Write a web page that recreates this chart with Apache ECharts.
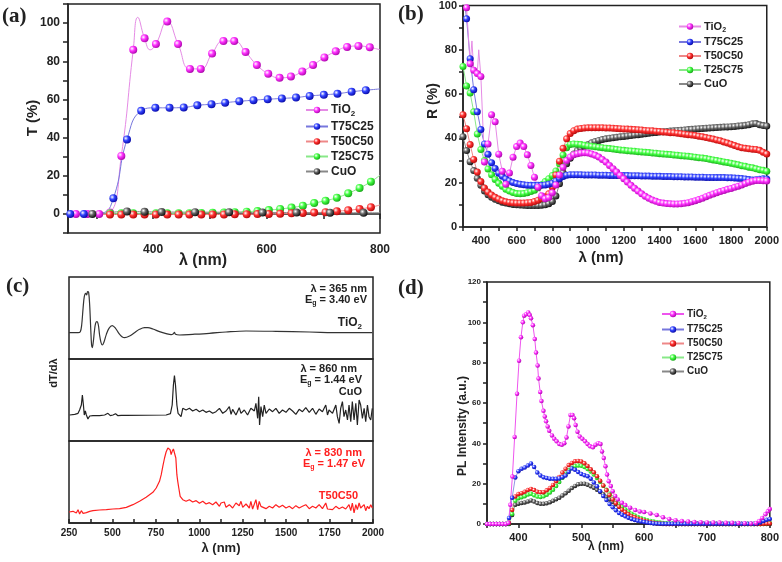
<!DOCTYPE html>
<html>
<head>
<meta charset="utf-8">
<script src="https://cdn.jsdelivr.net/npm/echarts@6/dist/echarts.min.js"></script>
<style>
  html, body { margin: 0; padding: 0; background: #fff; }
  #main { width: 782px; height: 562px; }
</style>
</head>
<body>
<div id="main"></div>
<script>
// ---------- (a) transmittance: dots + extra curve-only points ----------
const aTiO2Dots = [[264,0],[284,0],[305,0],[324,0.8],[344,30.4],[365,86],[385,92],[405,89],[425,100.8],[444,89],[465,76],[484,76],[504,84],[524,90.6],[543,90.6],[563,84.8],[583,78],[603,73.5],[623,71.3],[643,72],[663,74.6],[682,78],[702,82],[722,85.2],[742,87.5],[762,88],[782,87.3]]
const aTiO2Curve = [[250,0],[373,103],[395,86],[800,86]]
const aT75Dots = [[254,0],[278,0],[330,8.2],[354,39],[379,54],[404,55.6],[429,55.6],[454,55.8],[478,56.9],[503,57.5],[527,58.3],[552,59],[577,59.6],[602,60.1],[627,60.5],[652,61],[676,61.8],[701,62.4],[725,63],[750,64],[775,64.8]]
const aT75Curve = [[250,0],[310,0.5],[800,65.5]]
const aT50Dots = [[324,-0.3],[344,-0.3],[365,-0.3],[385,-0.3],[405,-0.3],[425,-0.3],[445,-0.3],[464,-0.3],[485,-0.3],[505,-0.3],[525,-0.3],[544,-0.2],[565,-0.2],[584,-0.1],[604,0],[624,0.1],[644,0.35],[664,0.5],[684,0.7],[704,0.9],[724,1.4],[744,1.9],[764,2.6],[784,3.5]]
const aT50Curve = [[250,-0.2],[800,4.7]]
const aT25Dots = [[324,0.3],[344,0.3],[365,0.3],[385,0.3],[405,0.3],[425,0.3],[445,0.3],[464,0.4],[485,0.5],[505,0.6],[525,0.7],[544,0.9],[565,1.2],[584,1.5],[604,2],[624,2.6],[644,3.3],[664,4.3],[684,5.7],[704,6.9],[724,8.5],[744,10.8],[764,13.6],[784,16.9]]
const aT25Curve = [[250,0.2],[800,20.3]]
const aCuODots = [[293,0],[354,1.3],[385,1.1],[415,1],[474,0.9],[534,0.9],[593,0.7],[653,0.7],[712,0.6],[771,0.6]]
const aCuOCurve = [[252,0],[800,0.6]]

// ---------- (b) reflectance, sampled every 20 nm ----------
const bWl = [300,320,340,360,380,400,420,440,460,480,
  500,520,540,560,580,600,620,640,660,680,
  700,720,740,760,780,800,820,840,860,880,
  900,920,940,960,980,1000,
  1020,1040,1060,1080,1100,1120,1140,1160,1180,1200,
  1220,1240,1260,1280,1300,1320,1340,1360,1380,1400,
  1420,1440,1460,1480,1500,1520,1540,1560,1580,1600,
  1620,1640,1660,1680,1700,1720,1740,1760,1780,1800,
  1820,1840,1860,1880,1900,1920,1940,1960,1980,2000]
const bTiO2 = [112,99,73.7,70.8,69.3,68,29.4,37.5,50.7,47.5,
  32.9,25.2,19.3,24.4,31.5,36.3,37.9,36.3,32.6,27.8,
  22.5,18,14.1,12.8,13.3,15.5,19,23.5,27,30,
  31.6,32.6,33.1,33.4,33.5,33.4,
  33,32.4,31.6,30.5,29.3,27.8,26.3,24.8,23.3,21.8,
  20.3,18.8,17.5,16.2,15,13.9,13,12.2,11.6,11.1,
  10.8,10.6,10.5,10.4,10.4,10.5,10.7,11,11.4,11.9,
  12.4,13,13.7,14.3,14.9,15.5,16,16.5,17,17.4,
  17.9,18.4,19,19.6,20.2,20.7,21,21,20.9,20.8]
const bTiO2Spikes = [[350,84],[388,80]]
const bT75 = [108,94,76,62,52,44,37.5,32.8,29,26.4,
  24.3,22.9,21.7,20.8,20.1,19.6,19.3,19.1,18.9,18.8,
  18.8,18.8,18.8,19,19.3,19.8,20.7,21.8,22.8,23.4,
  23.6,23.6,23.6,23.6,23.5,23.5,
  23.5,23.5,23.4,23.4,23.4,23.3,23.3,23.3,23.2,23.2,
  23.2,23.1,23.1,23.1,23,23,23,22.9,22.9,22.9,
  22.8,22.8,22.8,22.7,22.7,22.7,22.6,22.6,22.6,22.5,
  22.5,22.5,22.4,22.4,22.4,22.3,22.3,22.3,22.2,22.2,
  22.1,22,21.9,21.7,21.4,21.2,21.3,21.6,21.8,21.7]
const bT50 = [50.7,44.4,37.2,30.5,24.8,20.5,17.6,15.8,14.5,13.4,
  12.6,11.9,11.4,11.1,10.9,10.8,10.8,10.8,10.9,11.1,
  11.5,12.1,12.9,13.7,15,18,23.5,29.7,35.5,39.8,
  42.2,43.5,44.2,44.5,44.7,44.8,
  44.8,44.8,44.8,44.8,44.7,44.7,44.6,44.5,44.4,44.3,
  44.2,44.1,44,43.9,43.8,43.6,43.5,43.4,43.2,43.1,
  42.9,42.8,42.6,42.5,42.3,42.1,41.9,41.7,41.5,41.3,
  41,40.7,40.4,40.1,39.7,39.3,38.9,38.4,37.9,37.4,
  36.8,36.2,35.8,35.5,35.3,35.1,35,34.6,33.8,33]
const bT25 = [72.5,63.7,60.5,52,42,35,30,26.2,23.6,21.5,
  19.7,18.4,17,16.2,15.6,15.1,15,15.1,15.5,16,
  16.6,17.7,19.1,20.5,21.8,23.3,25.3,28.5,32.5,35.8,
  37.3,37.5,37.4,37.2,36.9,36.6,
  36.4,36.2,36,35.8,35.6,35.4,35.2,35,34.8,34.6,
  34.4,34.3,34.2,34,33.9,33.7,33.6,33.4,33.3,33.1,
  33,32.8,32.7,32.5,32.4,32.2,32.1,31.9,31.7,31.5,
  31.3,31.1,30.9,30.6,30.3,30,29.7,29.4,29.1,28.8,
  28.4,28.1,27.7,27.4,27,26.7,26.3,25.9,25.6,25.2]
const bCuO = [40.8,34.5,29.5,25.5,22,18.8,16.3,14.6,13.4,12.5,
  11.8,11.2,10.8,10.5,10.2,10,9.9,9.8,9.7,9.7,
  9.7,9.7,9.8,10,10.5,11.5,14,19.5,24.5,28.5,
  31,33,34.5,35.5,36.5,37.3,
  38,38.6,39.1,39.5,39.8,40.1,40.3,40.5,40.7,40.9,
  41.1,41.3,41.5,41.7,41.9,42.1,42.3,42.5,42.7,42.9,
  43,43.1,43.3,43.4,43.6,43.7,43.8,44,44.1,44.2,
  44.4,44.5,44.6,44.7,44.8,44.9,45,45.1,45.2,45.3,
  45.4,45.6,45.7,45.9,46.2,46.6,46.7,46.2,45.8,45.6]

// ---------- (c) dT/dλ traces (arbitrary units) ----------
const cTiO2 = [[250,0],[302,0],[315,3],[323,23],[331,73],[338,108],[346,118],[352,113],[357,123],[363,121],[369,83],[375,13],[380,-37],[384,-45],[390,-27],[396,3],[403,28],[411,33],[419,23],[426,-7],[434,-29],[442,-37],[451,-29],[465,-5],[480,13],[499,21],[518,13],[537,-2],[555,-12],[570,-15],[599,-10],[627,0],[656,10],[685,15],[704,15],[733,11],[771,3],[809,-3],[838,-6],[851,-3],[857,1],[863,-5],[886,-7],[962,-5],[1058,-2],[1154,2],[1269,5],[1441,4],[1633,2],[1824,0],[1996,0]]
const cCuO = [[254,0],[283,2],[302,5],[311,15],[321,30],[327,60],[333,30],[338,0],[344,12],[350,0],[359,-12],[369,-3],[379,-5],[388,-2],[426,-2],[455,0],[474,5],[488,-2],[503,0],[518,4],[532,-2],[551,-1],[580,-1],[809,0],[834,4],[844,30],[851,90],[857,118],[863,90],[871,30],[878,5],[886,10],[895,-5],[905,20],[915,22],[924,15],[943,20],[962,12],[982,17],[1001,10],[1020,15],[1039,8],[1058,12],[1077,5],[1096,10],[1116,20],[1135,5],[1154,12],[1173,25],[1183,2],[1192,17],[1211,0],[1230,22],[1240,5],[1259,15],[1278,0],[1297,20],[1317,12],[1326,35],[1336,-10],[1342,55],[1347,-30],[1355,25],[1365,-5],[1374,30],[1384,5],[1403,18],[1422,10],[1441,20],[1460,5],[1479,15],[1499,8],[1518,20],[1537,12],[1556,2],[1575,17],[1594,10],[1613,22],[1633,8],[1652,20],[1671,2],[1690,18],[1709,10],[1728,30],[1738,0],[1747,15],[1767,5],[1786,30],[1795,-5],[1805,-25],[1814,20],[1824,40],[1833,-5],[1843,15],[1853,-15],[1862,30],[1872,-20],[1881,40],[1891,-15],[1901,35],[1910,-30],[1920,45],[1929,30],[1939,-10],[1949,20],[1958,-20],[1968,30],[1977,-5],[1987,-15],[1996,20]]
const cT50 = [[250,33],[273,35],[292,30],[302,40],[311,27],[321,37],[331,29],[340,35],[350,31],[369,35],[388,37],[426,39],[465,40],[503,42],[541,43],[580,47],[618,55],[656,65],[694,77],[733,92],[752,105],[771,125],[781,145],[790,170],[800,195],[809,213],[819,225],[825,227],[832,220],[838,205],[844,215],[851,222],[859,219],[865,195],[871,145],[876,125],[882,105],[890,80],[897,77],[905,70],[915,72],[924,65],[943,70],[962,63],[982,67],[1001,59],[1020,65],[1039,57],[1058,61],[1077,55],[1096,63],[1116,50],[1125,60],[1135,55],[1144,63],[1154,47],[1173,55],[1192,45],[1211,60],[1230,52],[1240,65],[1250,47],[1269,57],[1288,45],[1297,65],[1307,42],[1326,70],[1336,40],[1345,65],[1355,50],[1365,55],[1384,43],[1403,50],[1422,45],[1441,55],[1460,47],[1479,53],[1499,45],[1518,50],[1537,43],[1556,52],[1575,45],[1594,50],[1613,55],[1633,43],[1652,50],[1671,45],[1690,55],[1709,43],[1728,60],[1738,42],[1747,47],[1767,40],[1786,50],[1805,43],[1824,48],[1843,42],[1862,55],[1872,37],[1881,60],[1891,30],[1901,55],[1910,40],[1920,60],[1929,45],[1939,42],[1949,55],[1958,37],[1968,50],[1977,43],[1987,55],[1996,45]]

// ---------- (d) PL spectra ----------
const dTiO2 = [[350,0],[355,0],[360,0],[365,0],[370,0],[375,0],[380,0],[384,0.5],[387,9.5],[390.4,23.5],[394,43.2],[397.8,64.6],[401,81],[404,92.6],[407,100],[409,103.3],[412.5,104],[415.6,104.9],[418,103.6],[420,102],[423,98.6],[426,91.7],[428,85],[430.5,78.6],[432,72.1],[434.6,65.5],[436.6,61],[439.8,56.1],[441.9,53.3],[444,50.9],[446.5,48.4],[449,46.3],[453.4,43.9],[457,42.3],[460.7,41],[465,39.7],[469,39.3],[473,40.1],[476.5,42.9],[479.6,48.4],[482.8,54.1],[486,54.1],[488.6,52.5],[491,49.1],[494,45.8],[497.5,43.4],[501.7,42.3],[506,41],[510,39.7],[514,38.5],[518.5,38],[522.7,39.3],[527,40.1],[530.6,39.7],[533,36],[535.8,32.7],[538.5,28.6],[541,24.5],[543.7,21.2],[547,18.8],[550,16.3],[554,13.9],[558,12.2],[564.6,10.5],[570,9.4],[577.8,8.1],[585.7,6.9],[593,6.2],[600,6],[610,5.2],[620,4.5],[630,3.3],[640,2.5],[650,1.9],[660,1.5],[670,1.2],[680,1],[690,0.9],[700,0.8],[710,0.7],[720,0.7],[730,0.6],[740,0.6],[750,0.5],[760,0.4],[770,0.3],[778,0.5],[783,1.5],[788,3],[793,4.8],[797,6.3],[800,7.5]]
const dWl = [350,355,360,365,370,375,380,385,390,395,
  400,405,410,415,420,425,430,435,440,445,
  450,455,460,465,470,475,480,485,490,495,
  500,505,510,515,520,525,530,535,540,545,
  550,555,560,565,570,575,580,585,590,595,
  600,605,610,615,620,625,630,635,640,645,
  650,655,660,665,670,675,680,685,690,695,
  700,705,710,715,720,725,730,735,740,745,
  750,755,760,765,770,775,780,785,790,795,800]
const dT75 = [0,0,0,0,0,0,0,3,13,23,
  26.2,27.4,28,29,30,28.3,25.5,24.1,23.2,22.8,
  22.5,22.4,22.4,22.6,23.2,24,25.8,27.5,26.9,25.8,
  24.8,24.2,23.7,22.5,20.6,18.7,16.2,13.9,11.9,9.9,
  8.3,6.8,5.5,4.6,3.8,3.1,2.5,2,1.6,1.3,
  1,0.7,0.5,0.3,0.2,0.1,0.1,0.1,0.1,0.1,
  0.1,0.1,0.1,0.1,0.1,0.1,0.1,0.1,0.1,0.1,
  0.1,0.1,0.1,0.1,0.1,0.1,0.1,0.1,0.1,0.1,
  0.1,0.1,0.1,0.1,0.1,0.1,0.3,0.8,1.5,2.1,2.5]
const dT50 = [0,0,0,0,0,0,0,0.5,7,13.6,
  14.9,15.3,16,16.9,17.4,16.8,16,15.7,15.8,16.7,
  17.9,19.4,21.2,23.3,25.5,27.4,29.2,30.3,31.1,31.3,
  31,30.1,28.8,27.1,25.6,23.7,21.5,19.1,16.7,14.4,
  12.2,10.3,8.6,7.1,5.9,4.8,3.9,3.3,2.6,2.1,
  1.6,1.2,0.9,0.6,0.4,0.2,0.1,0,0,0,
  0,0,0,0,0,0,0,0,0,0,
  0,0,0,0,0,0,0,0,0,0,
  0,0,0,0,0,0,0,0,0.1,0.2,0.3]
const dT25 = [0,0,0,0,0,0,0,0.3,5,11.5,
  12.8,13.3,13.8,14.6,15,14.3,13.6,13.4,13.7,14.5,
  15.6,17,18.8,20.8,22.9,24.9,26.6,27.9,28.7,29,
  28.9,28.3,27.3,26,24.5,22.8,21,19,17,15,
  13.2,11.5,9.9,8.5,7.2,6.1,5.1,4.2,3.5,2.9,
  2.4,1.9,1.5,1.2,0.9,0.7,0.5,0.4,0.3,0.2,
  0.1,0,0,0,0,0,0,0,0,0,
  0,0,0,0,0,0,0,0,0,0,
  0,0,0,0,0,0,0,0,0.1,0.3,0.5]
const dCuO = [0,0,0,0,0,0,0,0,4.5,9.5,
  10.1,10.4,10.7,11.2,11.7,11.1,10.4,10,10,10.3,
  10.8,11.5,12.3,13,14.1,15.2,16.5,17.8,18.9,19.7,
  20,20,19.5,18.7,18,17,15.9,14.7,13.4,12.2,
  10.9,9.8,8.6,7.5,6.4,5.4,4.5,3.7,3,2.3,
  1.7,1.2,0.8,0.5,0.3,0.1,0,0,0,0,
  0,0,0,0,0,0,0,0,0,0,
  0,0,0,0,0,0,0,0,0,0,
  0,0,0,0,0,0,0,0,0,0,0]

const FONT = '"Liberation Sans", Arial, sans-serif'
const INK = '#222'

const chart = echarts.init(document.getElementById('main'), null, { renderer: 'canvas' })

// shaded ball look for the markers
function ball (c, dark) {
  return new echarts.graphic.RadialGradient(0.35, 0.35, 0.75, [
    { offset: 0, color: '#ffffff' },
    { offset: 0.4, color: c },
    { offset: 1, color: dark }
  ])
}
const sty = {
  TiO2: { dot: ball('#ff33ff', '#a000a0'), line: '#e58be5' },
  T75C25: { dot: ball('#3344ff', '#00009a'), line: '#7777dd' },
  T50C50: { dot: ball('#ff3333', '#a80000'), line: '#ee8888' },
  T25C75: { dot: ball('#44ff44', '#109a10'), line: '#88e888' },
  CuO: { dot: ball('#666666', '#000000'), line: '#888888' }
}
const order = ['TiO2', 'T75C25', 'T50C50', 'T25C75', 'CuO']

function merge (dots, curve) {
  const out = dots.map(p => ({ value: p }))
  curve.forEach(p => out.push({ value: p, symbol: 'none' }))
  out.sort((u, v) => u.value[0] - v.value[0])
  return out
}
const onGrid = (xs, ys) => xs.map((x, i) => [x, ys[i]])

function dotLine (panel, key, gi, data, size, opts) {
  return Object.assign({
    name: panel + '|' + key,
    type: 'line',
    xAxisIndex: gi,
    yAxisIndex: gi,
    data: data,
    symbol: 'circle',
    symbolSize: size,
    showAllSymbol: true,
    lineStyle: { width: 1, color: sty[key].line },
    itemStyle: { color: sty[key].dot },
    emphasis: { disabled: true }
  }, opts || {})
}

function trace (gi, data, color, smooth) {
  return {
    type: 'line', xAxisIndex: gi, yAxisIndex: gi, data: data,
    showSymbol: false, smooth: smooth, lineStyle: { width: 1.2, color: color },
    emphasis: { disabled: true }
  }
}

const axLine = { lineStyle: { color: INK, width: 1.5 } }
const lab = (size, extra) => Object.assign({ fontFamily: FONT, fontWeight: 'bold', fontSize: size, color: INK }, extra)

function legendFor (panel, left, top, size, gap) {
  return {
    orient: 'vertical', left: left, top: top, itemWidth: 22, itemHeight: 8, itemGap: gap,
    selectedMode: false,
    data: order.map(k => panel + '|' + k),
    formatter: n => { const k = n.split('|')[1]; return k === 'TiO2' ? 'TiO{s|2}' : k },
    textStyle: lab(size, { padding: [0, 0, 0, -2], rich: { s: { fontSize: size - 4, fontWeight: 'bold', fontFamily: FONT, padding: [7, 0, 0, 0] } } })
  }
}

function txt (x, y, text, size, opts) {
  const o = opts || {}
  return {
    type: 'text', x: x, y: y, rotation: o.rot || 0, silent: true,
    style: {
      text: text, fontSize: size, fontWeight: 'bold', fontFamily: o.family || FONT,
      fill: o.fill || INK, align: o.align || 'center', verticalAlign: 'middle',
      rich: { s: { fontSize: Math.round(size * 0.65), fontWeight: 'bold', fontFamily: FONT, fill: o.fill || INK, padding: [Math.round(size * 0.55), 0, 0, 0] } }
    }
  }
}

const gridBox = { show: true, borderColor: INK, borderWidth: 1.5, backgroundColor: 'transparent' }

const option = {
  animation: false,
  backgroundColor: '#fff',
  grid: [
    Object.assign({ left: 68, top: 4, width: 312, height: 229 }, gridBox),
    Object.assign({ left: 463, top: 2, width: 305, height: 225 }, gridBox),
    Object.assign({ left: 69, top: 277, width: 304, height: 82 }, gridBox),
    Object.assign({ left: 69, top: 359, width: 304, height: 82 }, gridBox),
    Object.assign({ left: 69, top: 441, width: 304, height: 82 }, gridBox),
    Object.assign({ left: 487, top: 282, width: 286, height: 242 }, gridBox)
  ],
  xAxis: [
    { gridIndex: 0, type: 'value', min: 250, max: 800, axisLine: axLine,
      axisTick: { customValues: [300, 400, 500, 600, 700, 800], length: 5, lineStyle: { color: INK, width: 1.5 } },
      axisLabel: lab(12, { customValues: [400, 600, 800], margin: 11 }), splitLine: { show: false } },
    { gridIndex: 1, type: 'value', min: 300, max: 2000, interval: 100, axisLine: axLine,
      axisTick: { length: 4, lineStyle: { color: INK, width: 1.5 } },
      axisLabel: lab(11, { margin: 8, formatter: v => v % 200 === 0 ? v : '' }), splitLine: { show: false } },
    { gridIndex: 2, type: 'value', min: 250, max: 2000, show: false },
    { gridIndex: 3, type: 'value', min: 250, max: 2000, show: false },
    { gridIndex: 4, type: 'value', min: 250, max: 2000, interval: 125, axisLine: axLine,
      axisTick: { inside: true, length: 4, lineStyle: { color: INK, width: 1.5 } },
      axisLabel: lab(10, { margin: 5, formatter: v => v % 250 === 0 ? v : '' }), splitLine: { show: false } },
    { gridIndex: 5, type: 'value', min: 350, max: 800, interval: 50, axisLine: axLine,
      axisTick: { length: 4, lineStyle: { color: INK, width: 1.5 } },
      axisLabel: lab(11, { margin: 8, formatter: v => v % 100 === 0 ? v : '' }), splitLine: { show: false } }
  ],
  yAxis: [
    { gridIndex: 0, type: 'value', min: -10, max: 110, interval: 10, axisLine: axLine,
      axisTick: { length: 5, lineStyle: { color: INK, width: 1.5 } },
      axisLabel: lab(12, { margin: 8, formatter: v => (v >= 0 && v <= 100 && v % 20 === 0) ? v : '' }), splitLine: { show: false } },
    { gridIndex: 1, type: 'value', min: 0, max: 100, interval: 10, axisLine: axLine,
      axisTick: { length: 4, lineStyle: { color: INK, width: 1.5 } },
      axisLabel: lab(11, { margin: 6, formatter: v => v % 20 === 0 ? v : '' }), splitLine: { show: false } },
    { gridIndex: 2, type: 'value', min: -79, max: 167, show: false },
    { gridIndex: 3, type: 'value', min: -78, max: 168, show: false },
    { gridIndex: 4, type: 'value', min: 0, max: 246, show: false },
    { gridIndex: 5, type: 'value', min: 0, max: 120, interval: 10, axisLine: axLine,
      axisTick: { length: 4, lineStyle: { color: INK, width: 1.5 } },
      axisLabel: lab(8, { margin: 6, formatter: v => v % 20 === 0 ? v : '' }), splitLine: { show: false } }
  ],
  legend: [
    legendFor('a', 300, 99, 12, 3),
    legendFor('b', 673, 16, 11, 3),
    legendFor('d', 656, 304, 10, 4)
  ],
  series: [
    // (a)
    dotLine('a', 'TiO2', 0, merge(aTiO2Dots, aTiO2Curve), 8, { smooth: true }),
    dotLine('a', 'T75C25', 0, merge(aT75Dots, aT75Curve), 8, { smooth: true }),
    dotLine('a', 'T25C75', 0, merge(aT25Dots, aT25Curve), 8, { smooth: true }),
    dotLine('a', 'T50C50', 0, merge(aT50Dots, aT50Curve), 8, { smooth: true }),
    dotLine('a', 'CuO', 0, merge(aCuODots, aCuOCurve), 8, { smooth: true }),
    // (b)
    dotLine('b', 'CuO', 1, onGrid(bWl, bCuO), 7),
    dotLine('b', 'T25C75', 1, onGrid(bWl, bT25), 7),
    dotLine('b', 'T50C50', 1, onGrid(bWl, bT50), 7),
    dotLine('b', 'T75C25', 1, onGrid(bWl, bT75), 7),
    dotLine('b', 'TiO2', 1, merge(onGrid(bWl, bTiO2), bTiO2Spikes), 7),
    // (c)
    trace(2, cTiO2, '#333', 0.35),
    trace(3, cCuO, '#222', false),
    trace(4, cT50, '#ff2020', false),
    // (d)
    dotLine('d', 'CuO', 5, onGrid(dWl, dCuO), 4.5, { lineStyle: { width: 0.8, color: sty.CuO.line } }),
    dotLine('d', 'T25C75', 5, onGrid(dWl, dT25), 4.5, { lineStyle: { width: 0.8, color: sty.T25C75.line } }),
    dotLine('d', 'T50C50', 5, onGrid(dWl, dT50), 4.5, { lineStyle: { width: 0.8, color: sty.T50C50.line } }),
    dotLine('d', 'T75C25', 5, onGrid(dWl, dT75), 4.5, { lineStyle: { width: 0.8, color: sty.T75C25.line } }),
    dotLine('d', 'TiO2', 5, dTiO2, 4.5, { lineStyle: { width: 1, color: '#ee55ee' } })
  ],
  graphic: [
    txt(2, 17, '(a)', 21, { align: 'left', family: '"Liberation Serif", serif' }),
    txt(398, 15, '(b)', 21, { align: 'left', family: '"Liberation Serif", serif' }),
    txt(6, 287, '(c)', 21, { align: 'left', family: '"Liberation Serif", serif' }),
    txt(398, 289, '(d)', 21, { align: 'left', family: '"Liberation Serif", serif' }),
    txt(203, 261, 'λ (nm)', 16),
    txt(33, 118, 'T (%)', 15, { rot: Math.PI / 2 }),
    txt(601, 258, 'λ (nm)', 15),
    txt(433, 101, 'R (%)', 14, { rot: Math.PI / 2 }),
    txt(221, 548, 'λ (nm)', 13),
    txt(54, 373, 'dT/dλ', 11, { rot: Math.PI / 2 }),
    txt(606, 547, 'λ (nm)', 12),
    txt(463, 426, 'PL Intensity (a.u.)', 12, { rot: Math.PI / 2 }),
    // (c) annotations
    txt(367, 289, 'λ = 365 nm', 11, { align: 'right' }),
    txt(367, 300, 'E{s|g} = 3.40 eV', 11, { align: 'right' }),
    txt(362, 323, 'TiO{s|2}', 12, { align: 'right' }),
    txt(357, 369, 'λ = 860 nm', 11, { align: 'right' }),
    txt(362, 380, 'E{s|g} = 1.44 eV', 11, { align: 'right' }),
    txt(362, 392, 'CuO', 11, { align: 'right' }),
    txt(362, 453, 'λ = 830 nm', 11, { align: 'right', fill: '#ff2020' }),
    txt(365, 464, 'E{s|g} = 1.47 eV', 11, { align: 'right', fill: '#ff2020' }),
    txt(358, 496, 'T50C50', 11, { align: 'right', fill: '#ff2020' })
  ]
}

chart.setOption(option)
</script>
</body>
</html>
